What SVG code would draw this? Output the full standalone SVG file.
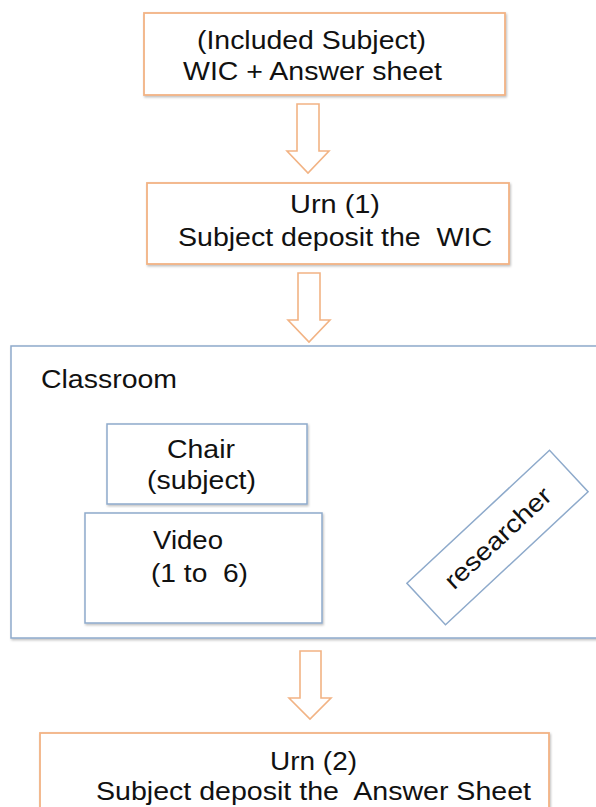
<svg xmlns="http://www.w3.org/2000/svg" width="596" height="807" viewBox="0 0 596 807">
  <defs>
    <filter id="sh" x="-5%" y="-5%" width="110%" height="110%">
      <feDropShadow dx="1" dy="1.5" stdDeviation="1" flood-color="#000" flood-opacity="0.25"/>
    </filter>
  </defs>
  <style>
    .ob { fill: #fff; stroke: #F2B384; stroke-width: 1.8; }
    .bb { fill: #fff; stroke: #8EAACB; stroke-width: 1.5; }
    .arr { fill: #fff; stroke: #F2B384; stroke-width: 1.6; stroke-linejoin: miter; }
    text { font-family: "Liberation Sans", Arial, sans-serif; font-size: 25px; fill: #111; }
  </style>
  <rect width="596" height="807" fill="#fff"/>

  <g id="connectors">
    <polygon class="arr" points="297,104 319,104 319,151 329,151 308,173 287,151 297,151"/>
    <polygon class="arr" points="298,273 320,273 320,320 330,320 309,342 288,320 298,320"/>
    <polygon class="arr" points="300,651 321,651 321,698 331,698 310,719 289,698 300,698"/>
  </g>

  <g id="included">
    <rect class="ob" x="144" y="13" width="361" height="82" filter="url(#sh)"/>
    <text x="197" y="49" textLength="229" lengthAdjust="spacingAndGlyphs">(Included Subject)</text>
    <text x="183" y="80" textLength="259" lengthAdjust="spacingAndGlyphs">WIC + Answer sheet</text>
  </g>

  <g id="urn1">
    <rect class="ob" x="147" y="183" width="362" height="81" filter="url(#sh)"/>
    <text x="290" y="213" textLength="90" lengthAdjust="spacingAndGlyphs">Urn (1)</text>
    <text x="178" y="246" textLength="314" lengthAdjust="spacingAndGlyphs" xml:space="preserve">Subject deposit the  WIC</text>
  </g>

  <g id="classroom">
    <rect class="bb" x="11" y="346" width="600" height="292" filter="url(#sh)" stroke-width="1.8"/>
    <text x="41" y="388" textLength="136" lengthAdjust="spacingAndGlyphs">Classroom</text>
  </g>

  <g id="chair">
    <rect class="bb" x="107" y="424" width="200" height="80" filter="url(#sh)"/>
    <text x="167" y="458" textLength="68" lengthAdjust="spacingAndGlyphs">Chair</text>
    <text x="147" y="489" textLength="109" lengthAdjust="spacingAndGlyphs">(subject)</text>
  </g>

  <g id="video">
    <rect class="bb" x="85" y="513" width="237" height="110" filter="url(#sh)"/>
    <text x="153" y="549" textLength="70" lengthAdjust="spacingAndGlyphs">Video</text>
    <text x="151" y="582" textLength="97" lengthAdjust="spacingAndGlyphs" xml:space="preserve">(1 to  6)</text>
  </g>

  <g id="researcher" transform="translate(497.5,537.5) rotate(-43)">
    <rect class="bb" x="-97.5" y="-28.3" width="195" height="56.6"/>
    <text x="0" y="9" text-anchor="middle" textLength="136" lengthAdjust="spacingAndGlyphs">researcher</text>
  </g>

  <g id="urn2">
    <rect class="ob" x="40" y="733" width="509" height="90" filter="url(#sh)"/>
    <text x="270" y="770" textLength="87" lengthAdjust="spacingAndGlyphs">Urn (2)</text>
    <text x="96" y="800" textLength="435" lengthAdjust="spacingAndGlyphs" xml:space="preserve">Subject deposit the  Answer Sheet</text>
  </g>
</svg>
